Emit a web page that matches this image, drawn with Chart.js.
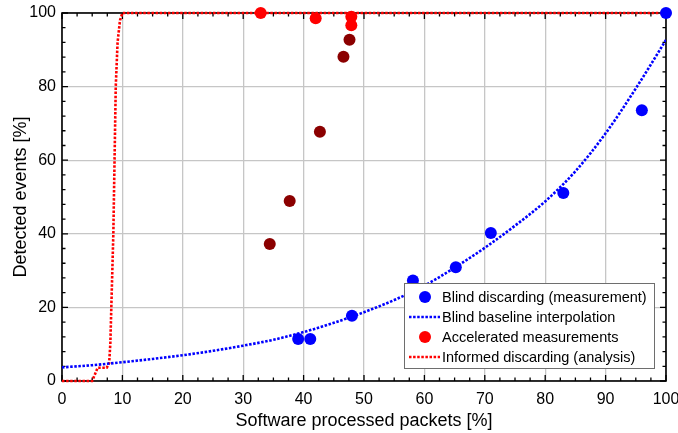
<!DOCTYPE html>
<html>
<head>
<meta charset="utf-8">
<script src="https://cdn.jsdelivr.net/npm/chart.js@4.4.1/dist/chart.umd.min.js"></script>
<style>
  html, body { margin: 0; padding: 0; background: #fff; }
  #wrap { width: 678px; height: 433px; }
</style>
</head>
<body>
<div id="wrap"><canvas id="detChart" width="678" height="433"></canvas></div>
<script>
// ----- DATA -----
const blindX = [39.1, 41.1, 48.0, 58.1, 65.2, 71.0, 83.0, 96.0, 100];
const blindY = [11.4, 11.4, 17.7, 27.3, 30.9, 40.2, 51.1, 73.6, 100];

const baselineX = [0, 5, 10, 15, 20, 25, 30, 35, 40, 45, 50, 55, 60, 65, 70, 75, 80, 85, 90, 95, 100];
const baselineY = [3.7, 4.3, 5.1, 6.0, 7.0, 8.2, 9.6, 11.2, 13.3, 15.8, 18.7, 22.0, 25.9, 30.8, 36.2, 42.2, 48.8, 57.0, 67.3, 79.5, 92.7];

// accelerated runs that reached (almost) full detection
const accelFastX = [32.9, 42.0, 47.9, 47.9];
const accelFastY = [100, 98.6, 99.0, 96.7];
// accelerated runs that lost events
const accelSlowX = [47.6, 46.6, 42.7, 37.7, 34.4];
const accelSlowY = [92.7, 88.1, 67.7, 48.9, 37.2];

const informedX = [0, 5.0, 5.9, 7.4, 7.8, 8.0, 8.2, 8.5, 8.7, 8.9, 9.2, 9.6, 10, 100];
const informedY = [0, 0, 3.6, 3.6, 4.8, 10, 22, 40, 60, 80, 92, 98, 100, 100];

const xTicks = [0, 10, 20, 30, 40, 50, 60, 70, 80, 90, 100];
const yTicks = [0, 20, 40, 60, 80, 100];

const pts = (xs, ys) => xs.map((x, i) => ({ x: x, y: ys[i] }));

const FONT = "'Liberation Sans', Arial, Helvetica, sans-serif";
const BLUE = '#0000ff';
const RED = '#ff0000';
const DARKRED = '#8b0000';
const DOTS = [2.5, 1.6];

// ----- FRAME + INWARD TICKS (all four sides) -----
const frameTicks = {
  id: 'frameTicks',
  beforeDatasetsDraw(chart) {
    const { ctx, chartArea: a, scales: { x, y } } = chart;
    ctx.save();
    ctx.strokeStyle = '#000';
    ctx.lineWidth = 1.3;
    ctx.beginPath();
    for (let v = 0; v <= 100.001; v += 2.5) {
      const px = x.getPixelForValue(v);
      const len = (Math.abs(v % 10) < 0.01) ? 6 : 3.5;
      ctx.moveTo(px, a.bottom); ctx.lineTo(px, a.bottom - len);
      ctx.moveTo(px, a.top); ctx.lineTo(px, a.top + len);
    }
    for (let v = 0; v <= 100.001; v += 4) {
      const py = y.getPixelForValue(v);
      const len = (Math.abs(v % 20) < 0.01) ? 6 : 3.5;
      ctx.moveTo(a.left, py); ctx.lineTo(a.left + len, py);
      ctx.moveTo(a.right, py); ctx.lineTo(a.right - len, py);
    }
    ctx.stroke();
    ctx.lineWidth = 1.6;
    ctx.strokeRect(a.left, a.top, a.right - a.left, a.bottom - a.top);
    ctx.restore();
  }
};

// ----- LEGEND (boxed, lower right inside the plot) -----
const legendBox = {
  id: 'legendBox',
  afterDatasetsDraw(chart) {
    const { ctx } = chart;
    const bx = 404, by = 283, bw = 250, bh = 85, rowH = 20;
    ctx.save();
    ctx.fillStyle = '#fff';
    ctx.fillRect(bx, by, bw, bh);
    ctx.strokeStyle = '#6e6e6e';
    ctx.lineWidth = 1;
    ctx.strokeRect(bx + 0.5, by + 0.5, bw, bh);
    ctx.font = '14.5px ' + FONT;
    ctx.textBaseline = 'middle';
    ctx.textAlign = 'left';
    chart.data.datasets.filter(d => d.label).forEach((d, i) => {
      const cy = by + 14 + i * rowH;
      if (d.showLine) {
        ctx.strokeStyle = d.borderColor;
        ctx.lineWidth = d.borderWidth;
        ctx.setLineDash(d.borderDash);
        ctx.beginPath();
        ctx.moveTo(bx + 5, cy);
        ctx.lineTo(bx + 36, cy);
        ctx.stroke();
        ctx.setLineDash([]);
      } else {
        const c = Array.isArray(d.pointBackgroundColor) ? d.pointBackgroundColor[0] : d.pointBackgroundColor;
        ctx.fillStyle = c;
        ctx.beginPath();
        ctx.arc(bx + 21, cy, 6, 0, Math.PI * 2);
        ctx.fill();
      }
      ctx.fillStyle = '#000';
      ctx.fillText(d.label, bx + 38, cy + 1);
    });
    ctx.restore();
  }
};

const accelPts = pts(accelFastX, accelFastY).concat(pts(accelSlowX, accelSlowY));
const accelColors = accelFastX.map(() => RED).concat(accelSlowX.map(() => DARKRED));

const ctx = document.getElementById('detChart').getContext('2d');
new Chart(ctx, {
  type: 'scatter',
  data: {
    datasets: [
      {
        label: 'Blind discarding (measurement)',
        data: pts(blindX, blindY),
        showLine: false,
        pointRadius: 6,
        pointBorderWidth: 0,
        pointBackgroundColor: BLUE,
        pointBorderColor: BLUE,
        clip: false,
        order: 1
      },
      {
        label: 'Blind baseline interpolation',
        data: pts(baselineX, baselineY),
        showLine: true,
        borderColor: BLUE,
        borderWidth: 2.6,
        borderDash: DOTS,
        pointRadius: 0,
        cubicInterpolationMode: 'monotone',
        order: 3
      },
      {
        label: 'Accelerated measurements',
        data: accelPts,
        showLine: false,
        pointRadius: 6,
        pointBorderWidth: 0,
        pointBackgroundColor: accelColors,
        pointBorderColor: accelColors,
        clip: false,
        order: 2
      },
      {
        label: 'Informed discarding (analysis)',
        data: pts(informedX, informedY),
        showLine: true,
        borderColor: RED,
        borderWidth: 2.6,
        borderDash: DOTS,
        pointRadius: 0,
        tension: 0,
        clip: false,
        order: 4
      }
    ]
  },
  options: {
    responsive: false,
    animation: false,
    devicePixelRatio: 1,
    layout: { padding: { top: 13, right: 12, left: 0, bottom: 0 } },
    plugins: {
      legend: { display: false },
      tooltip: { enabled: false }
    },
    scales: {
      x: {
        type: 'linear',
        min: 0,
        max: 100,
        afterFit: s => { s.height = 52; s.paddingLeft = 0; s.paddingRight = 0; },
        afterBuildTicks: s => { s.ticks = xTicks.map(v => ({ value: v })); },
        grid: { color: '#c6c6c6', lineWidth: 1.3, drawTicks: false },
        border: { display: false },
        ticks: { color: '#000', padding: 9, font: { family: FONT, size: 16 } },
        title: {
          display: true,
          text: 'Software processed packets [%]',
          color: '#000',
          font: { family: FONT, size: 18 },
          padding: { top: 0, bottom: 1 }
        }
      },
      y: {
        type: 'linear',
        min: 0,
        max: 100,
        afterFit: s => { s.width = 62; s.paddingTop = 0; s.paddingBottom = 0; },
        afterBuildTicks: s => { s.ticks = yTicks.map(v => ({ value: v })); },
        grid: { color: '#c6c6c6', lineWidth: 1.3, drawTicks: false },
        border: { display: false },
        ticks: { color: '#000', padding: 6, font: { family: FONT, size: 16 } },
        title: {
          display: true,
          text: 'Detected events [%]',
          color: '#000',
          font: { family: FONT, size: 18 },
          padding: { top: 10, bottom: 0 }
        }
      }
    }
  },
  plugins: [frameTicks, legendBox]
});
</script>
</body>
</html>
